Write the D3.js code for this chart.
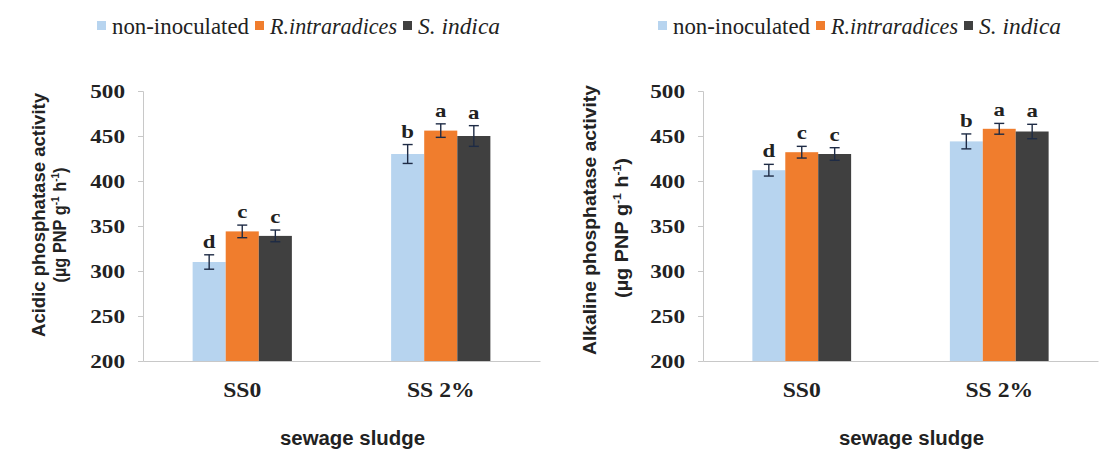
<!DOCTYPE html>
<html>
<head>
<meta charset="utf-8">
<script src="https://cdn.jsdelivr.net/npm/d3@7"></script>
<style>
  html, body { margin: 0; padding: 0; background: #fff; }
  svg { display: block; }
</style>
</head>
<body>
<svg id="chart" width="1102" height="450"></svg>
<script>
// ---------- data ----------
const categories = ["SS0", "SS 2%"];
const seriesNames = ["non-inoculated", "R.intraradices", "S. indica"];
const seriesColors = ["#b7d4ef", "#f07d2d", "#404040"];
const yTicks = [200, 250, 300, 350, 400, 450, 500];

// Acidic phosphatase
const acidNon = [310, 430];
const acidRi  = [344, 456];
const acidSi  = [339, 450];
const acidErrNon = [8, 10.5];
const acidErrRi  = [7, 7.5];
const acidErrSi  = [6.5, 11.5];
const acidLetNon = ["d", "b"];
const acidLetRi  = ["c", "a"];
const acidLetSi  = ["c", "a"];

// Alkaline phosphatase
const alkNon = [412, 444];
const alkRi  = [432, 458];
const alkSi  = [430, 455];
const alkErrNon = [6.5, 8.3];
const alkErrRi  = [6.5, 6];
const alkErrSi  = [7, 8];
const alkLetNon = ["d", "b"];
const alkLetRi  = ["c", "a"];
const alkLetSi  = ["c", "a"];

const xTitle = "sewage sludge";

// ---------- helpers ----------
const svg = d3.select("#chart");
const SERIF = "'Liberation Serif','Times New Roman',serif";
const SANS = "'Liberation Sans',Arial,sans-serif";

function stretch(sel, f) {
  sel.each(function () {
    const w = this.getComputedTextLength();
    d3.select(this).attr("textLength", w * f).attr("lengthAdjust", "spacingAndGlyphs");
  });
}
function fitWidth(sel, target) {
  sel.attr("textLength", target).attr("lengthAdjust", "spacingAndGlyphs");
}

const panels = [
  {
    x0: 143, x1: 540, title: "Acidic phosphatase activity",
    t1x: 38, t2x: 60, t1cy: 215, t2cy: 225, t1len: 244, t2len: 115,
    vals: [acidNon, acidRi, acidSi], errs: [acidErrNon, acidErrRi, acidErrSi],
    lets: [acidLetNon, acidLetRi, acidLetSi], legendX: 97
  },
  {
    x0: 703, x1: 1098, title: "Alkaline phosphatase activity",
    t1x: 589, t2x: 622, t1cy: 220, t2cy: 228, t1len: 270, t2len: 140,
    vals: [alkNon, alkRi, alkSi], errs: [alkErrNon, alkErrRi, alkErrSi],
    lets: [alkLetNon, alkLetRi, alkLetSi], legendX: 658
  }
];

const yTop = 91, yBot = 361;
const y = d3.scaleLinear().domain([200, 500]).range([yBot, yTop]);

panels.forEach(p => {
  const g = svg.append("g");
  const x = d3.scaleBand().domain(categories).range([p.x0, p.x1]).paddingInner(0.5).paddingOuter(0.25);
  const xs = d3.scaleBand().domain(d3.range(seriesNames.length)).range([0, x.bandwidth()]).padding(0);

  // y axis
  const yAxis = d3.axisLeft(y).tickValues(yTicks).tickSize(5).tickPadding(13);
  const ya = g.append("g").attr("transform", `translate(${p.x0},0)`).call(yAxis);
  ya.select(".domain").attr("stroke", "#c8c8c8");
  ya.selectAll(".tick line").attr("stroke", "#c8c8c8");
  ya.selectAll(".tick text")
    .attr("font-family", SERIF).attr("font-weight", "bold").attr("font-size", 19)
    .attr("fill", "#222").attr("dy", "0.34em");
  stretch(ya.selectAll(".tick text"), 1.22);

  // x axis baseline
  const xAxis = d3.axisBottom(x).tickSize(0).tickPadding(0);
  const xa = g.append("g").attr("transform", `translate(0,${yBot})`).call(xAxis);
  xa.select(".domain").attr("stroke", "#c8c8c8");
  xa.selectAll(".tick text")
    .attr("y", 36).attr("dy", 0)
    .attr("font-family", SERIF).attr("font-weight", "bold").attr("font-size", 20)
    .attr("fill", "#222");
  stretch(xa.selectAll(".tick text"), 1.18);

  // bars
  seriesNames.forEach((s, si) => {
    const data = categories.map((c, ci) => ({
      c, v: p.vals[si][ci], e: p.errs[si][ci], l: p.lets[si][ci]
    }));
    const sg = g.append("g");
    sg.selectAll("rect").data(data).join("rect")
      .attr("x", d => x(d.c) + xs(si))
      .attr("y", d => y(d.v))
      .attr("width", xs.bandwidth())
      .attr("height", d => yBot - y(d.v))
      .attr("fill", seriesColors[si]);

    // error bars
    const eg = sg.selectAll("g.err").data(data).join("g").attr("class", "err")
      .attr("stroke", "#1e2b45").attr("stroke-width", 1.4);
    const cx = d => x(d.c) + xs(si) + xs.bandwidth() / 2;
    eg.append("line").attr("x1", cx).attr("x2", cx)
      .attr("y1", d => y(d.v + d.e)).attr("y2", d => y(d.v - d.e));
    eg.append("line").attr("x1", d => cx(d) - 5).attr("x2", d => cx(d) + 5)
      .attr("y1", d => y(d.v + d.e)).attr("y2", d => y(d.v + d.e));
    eg.append("line").attr("x1", d => cx(d) - 5).attr("x2", d => cx(d) + 5)
      .attr("y1", d => y(d.v - d.e)).attr("y2", d => y(d.v - d.e));

    // significance letters
    const lt = sg.selectAll("text.let").data(data).join("text").attr("class", "let")
      .attr("x", cx).attr("y", d => y(d.v + d.e) - 7)
      .attr("text-anchor", "middle")
      .attr("font-family", SERIF).attr("font-weight", "bold").attr("font-size", 19)
      .attr("fill", "#222").text(d => d.l);
    stretch(lt, 1.2);
  });

  // y title
  const t1 = g.append("text")
    .attr("transform", `translate(${p.t1x},${p.t1cy}) rotate(-90)`)
    .attr("text-anchor", "middle").attr("dy", "0.35em")
    .attr("font-family", SANS).attr("font-weight", "bold").attr("font-size", 19)
    .attr("fill", "#222").text(p.title);
  fitWidth(t1, p.t1len);

  const t2 = g.append("text")
    .attr("transform", `translate(${p.t2x},${p.t2cy}) rotate(-90)`)
    .attr("text-anchor", "middle").attr("dy", "0.35em")
    .attr("font-family", SANS).attr("font-weight", "bold").attr("font-size", 18)
    .attr("fill", "#222");
  t2.append("tspan").text("(µg PNP g");
  t2.append("tspan").attr("font-size", 11).attr("dy", -7).text("-1");
  t2.append("tspan").attr("dy", 7).text(" h");
  t2.append("tspan").attr("font-size", 11).attr("dy", -7).text("-1");
  t2.append("tspan").attr("dy", 7).text(")");
  fitWidth(t2, p.t2len);

  // x title
  const xt = g.append("text")
    .attr("x", (p.x0 + p.x1) / 2 + 11).attr("y", 445)
    .attr("text-anchor", "middle")
    .attr("font-family", SANS).attr("font-weight", "bold").attr("font-size", 20)
    .attr("fill", "#222").text(xTitle);
  fitWidth(xt, 145);

  // legend
  const lg = g.append("g");
  const legW = [137, 127, 82];
  let lx = p.legendX;
  seriesNames.forEach((s, si) => {
    lg.append("rect").attr("x", lx).attr("y", 21).attr("width", 9).attr("height", 9)
      .attr("fill", seriesColors[si]);
    const tx = lg.append("text").attr("x", lx + 15).attr("y", 34)
      .attr("font-family", SERIF).attr("font-size", 24)
      .attr("font-style", si === 0 ? "normal" : "italic")
      .attr("fill", "#222").text(s);
    fitWidth(tx, legW[si]);
    lx += 15 + legW[si] + 6;
  });
});
</script>
</body>
</html>
